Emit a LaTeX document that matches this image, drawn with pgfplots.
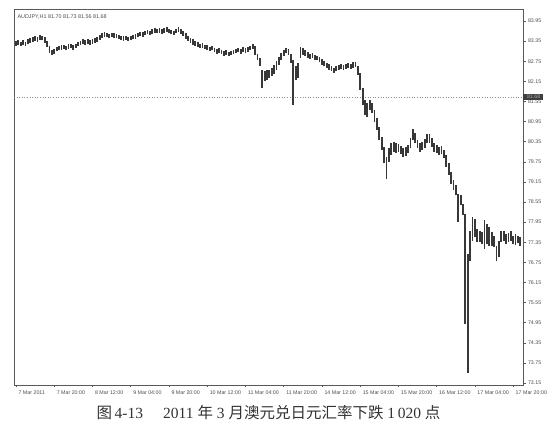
\documentclass[border=0pt]{standalone}
\usepackage{pgfplots}
\pgfplotsset{compat=1.18}
\usepackage{pgfplotstable}
\usepackage{fontspec}
\setmainfont{Liberation Serif}
\newfontfamily\sansf{Liberation Sans}
\newfontfamily\cjk{Noto Sans CJK SC}

% AUDJPY H1 bars: index, low, high
\pgfplotstableread{
i l h
0 83.22 83.36
1 83.25 83.38
2 83.20 83.33
3 83.24 83.37
4 83.22 83.34
5 83.26 83.40
6 83.30 83.45
7 83.33 83.48
8 83.36 83.50
9 83.34 83.47
10 83.38 83.52
11 83.37 83.50
12 83.30 83.46
13 83.18 83.35
14 83.00 83.22
15 82.95 83.10
16 82.98 83.12
17 83.05 83.18
18 83.08 83.20
19 83.10 83.24
20 83.12 83.25
21 83.08 83.22
22 83.13 83.26
23 83.15 83.28
24 83.10 83.24
25 83.14 83.27
26 83.20 83.33
27 83.24 83.36
28 83.27 83.40
29 83.25 83.38
30 83.28 83.42
31 83.24 83.37
32 83.27 83.41
33 83.30 83.43
34 83.33 83.47
35 83.38 83.52
36 83.45 83.58
37 83.48 83.62
38 83.46 83.60
39 83.44 83.57
40 83.47 83.60
41 83.45 83.58
42 83.43 83.56
43 83.40 83.54
44 83.38 83.50
45 83.36 83.49
46 83.38 83.51
47 83.35 83.48
48 83.37 83.50
49 83.40 83.53
50 83.42 83.56
51 83.46 83.59
52 83.50 83.63
53 83.48 83.61
54 83.52 83.65
55 83.55 83.68
56 83.53 83.66
57 83.57 83.70
58 83.60 83.73
59 83.58 83.72
60 83.60 83.75
61 83.56 83.70
62 83.59 83.73
63 83.62 83.76
64 83.58 83.71
65 83.55 83.69
66 83.52 83.66
67 83.58 83.72
68 83.62 83.78
69 83.57 83.72
70 83.50 83.66
71 83.42 83.58
72 83.36 83.50
73 83.30 83.45
74 83.25 83.40
75 83.22 83.36
76 83.18 83.32
77 83.15 83.28
78 83.16 83.30
79 83.12 83.25
80 83.10 83.23
81 83.05 83.19
82 83.08 83.22
83 83.02 83.16
84 82.98 83.12
85 83.00 83.14
86 82.96 83.10
87 82.92 83.06
88 82.95 83.08
89 82.90 83.04
90 82.93 83.06
91 82.97 83.10
92 83.00 83.13
93 83.02 83.15
94 82.98 83.12
95 83.03 83.17
96 83.00 83.14
97 83.04 83.18
98 83.08 83.22
99 83.12 83.28
100 82.95 83.20
101 82.78 82.98
102 82.62 82.85
103 81.95 82.50
104 82.15 82.45
105 82.20 82.48
106 82.25 82.50
107 82.30 82.55
108 82.38 82.65
109 82.50 82.75
110 82.65 82.88
111 82.80 83.00
112 82.92 83.10
113 83.00 83.16
114 82.95 83.13
115 82.70 82.98
116 81.45 82.80
117 82.20 82.60
118 82.25 82.70
119 82.85 83.18
120 82.95 83.15
121 82.90 83.08
122 82.85 83.02
123 82.82 82.98
124 82.86 83.00
125 82.80 82.95
126 82.78 82.92
127 82.72 82.88
128 82.65 82.82
129 82.60 82.76
130 82.55 82.70
131 82.50 82.66
132 82.46 82.62
133 82.40 82.56
134 82.45 82.60
135 82.48 82.63
136 82.52 82.66
137 82.50 82.64
138 82.52 82.68
139 82.55 82.70
140 82.53 82.68
141 82.56 82.72
142 82.58 82.74
143 82.35 82.62
144 81.90 82.40
145 81.45 81.95
146 81.15 81.60
147 81.10 81.50
148 81.30 81.60
149 81.20 81.50
150 80.95 81.30
151 80.70 81.05
152 80.40 80.80
153 80.10 80.50
154 79.70 80.20
155 79.24 79.90
156 79.75 80.15
157 79.95 80.30
158 80.05 80.35
159 80.00 80.30
160 80.05 80.28
161 79.98 80.22
162 79.90 80.15
163 79.92 80.18
164 80.00 80.25
165 80.15 80.45
166 80.40 80.72
167 80.30 80.60
168 80.15 80.40
169 80.05 80.30
170 80.10 80.35
171 80.15 80.42
172 80.30 80.58
173 80.32 80.58
174 80.20 80.45
175 80.05 80.30
176 80.00 80.25
177 79.95 80.20
178 79.98 80.22
179 79.85 80.10
180 79.60 79.95
181 79.35 79.70
182 79.10 79.45
183 78.90 79.20
184 78.75 79.05
185 77.95 78.80
186 78.45 78.75
187 78.15 78.50
188 74.90 78.20
189 73.45 77.00
190 76.80 77.70
191 77.40 78.10
192 77.50 78.05
193 77.35 77.75
194 77.35 77.70
195 77.30 77.65
196 77.15 78.00
197 77.30 77.90
198 77.25 77.80
199 77.25 77.65
200 77.20 77.55
201 76.80 77.25
202 76.90 77.40
203 77.35 77.70
204 77.40 77.68
205 77.30 77.60
206 77.35 77.62
207 77.38 77.70
208 77.30 77.55
209 77.28 77.60
210 77.32 77.55
211 77.25 77.50
}\bars

\begin{document}
\begin{tikzpicture}
\begin{axis}[
    name=ax,
    anchor=south west,
    scale only axis,
    width=509pt, height=376pt,
    xmin=-0.84, xmax=212.1,
    ymin=73.09, ymax=84.31,
    axis line style={black!65, line width=0.6pt},
    font=\sansf\fontsize{5.3}{6}\selectfont,
    tick style={black!65, line width=0.5pt},
    tick align=outside,
    major tick length=2.5pt,
    xtick={0,16,...,208},
    xticklabels={7 Mar 2011,7 Mar 20:00,8 Mar 12:00,9 Mar 04:00,9 Mar 20:00,10 Mar 12:00,11 Mar 04:00,11 Mar 20:00,14 Mar 12:00,15 Mar 04:00,15 Mar 20:00,16 Mar 12:00,17 Mar 04:00,17 Mar 20:00},
    xtick pos=bottom,
    xticklabel style={anchor=north west, xshift=-1pt, text=black!70},
    ytick={73.15,73.75,74.35,74.95,75.55,76.15,76.75,77.35,77.95,78.55,79.15,79.75,80.35,80.95,81.55,82.15,82.75,83.35,83.95},
    yticklabels={73.15,73.75,74.35,74.95,75.55,76.15,76.75,77.35,77.95,78.55,79.15,79.75,80.35,80.95,81.55,82.15,82.75,83.35,83.95},
    ytick pos=right,
    yticklabel pos=right,
    yticklabel style={anchor=west, xshift=-1pt, text=black!70},
    clip=false,
]
% current price line
\addplot[black!45, dotted, line width=0.6pt] coordinates {(-0.84,81.68) (212.1,81.68)};
% high-low bars
\addplot[draw=none, mark=none,
    error bars/.cd, y dir=plus, y explicit,
    error mark=none,
    error bar style={black!78, line width=1.8pt}]
    table[x=i, y=l, y error expr=\thisrow{h}-\thisrow{l}] {\bars};
\node[anchor=north west, font=\sansf\fontsize{5.4}{6}\selectfont, text=black!70, yshift=-2pt] at (rel axis cs:0,1) {AUDJPY,H1 81.70 81.73 81.56 81.68};
\node[anchor=west, fill=black!75, text=black!35, inner sep=0.6pt, minimum height=5.5pt, minimum width=20pt, font=\sansf\fontsize{5.3}{5.5}\selectfont] at (axis cs:212.1,81.68) {\,81.68};
\end{axis}
\path ([xshift=-14pt,yshift=-51pt]ax.south west) rectangle ([xshift=34pt,yshift=9pt]ax.north east);
\node[font=\fontsize{15.5}{17}\selectfont, text=black!80] at ([yshift=-28pt]ax.south) {{\cjk 图}\,4-13\hspace{1.3em}2011 {\cjk 年} 3 {\cjk 月澳元兑日元汇率下跌} 1\,020 {\cjk 点}};
\end{tikzpicture}
\end{document}
